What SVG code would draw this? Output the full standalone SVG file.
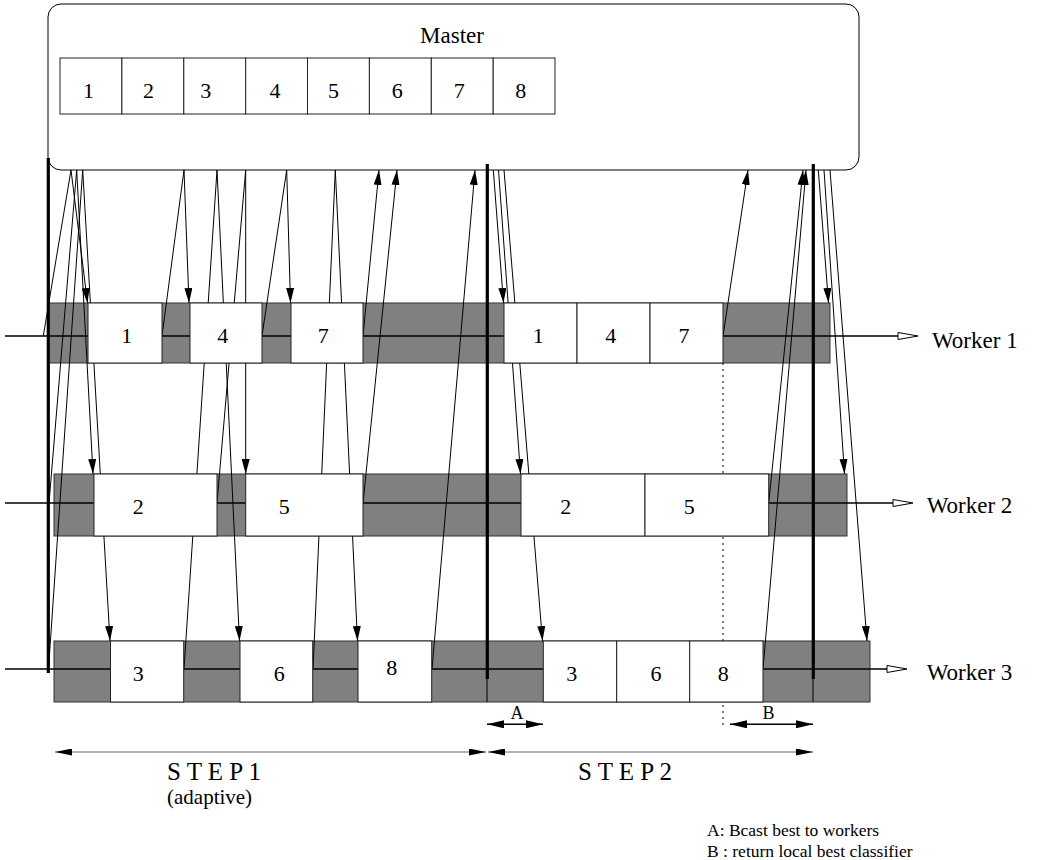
<svg xmlns="http://www.w3.org/2000/svg" width="1039" height="860" viewBox="0 0 1039 860">
<style>
.t{font-family:"Liberation Serif","Times New Roman",serif;fill:#000}
.d{font-size:22px;text-anchor:middle}
.wl{font-size:23px}
.gray{fill:#808080;stroke:#333;stroke-width:1}
.wb{fill:#fff;stroke:#222;stroke-width:1}
.cell{fill:#fff;stroke:#222;stroke-width:1}
.hl{stroke:#000;stroke-width:1.6;fill:none}
.c{stroke:#000;stroke-width:1;fill:none}
.ca{stroke:#000;stroke-width:1;fill:none;marker-end:url(#ah)}
.thick{stroke:#000;stroke-width:3.2}
.oa{fill:#fff;stroke:#000;stroke-width:1}
</style>
<defs>
<marker id="ah" markerWidth="15" markerHeight="8" refX="15" refY="4" orient="auto" markerUnits="userSpaceOnUse"><path d="M0,0 L15,4 L0,8 Z" fill="#000"/></marker>
<marker id="dh" markerWidth="17" markerHeight="7" refX="17" refY="3.5" orient="auto-start-reverse" markerUnits="userSpaceOnUse"><path d="M0,0 L17,3.5 L0,7 Z" fill="#000"/></marker>
<marker id="bh" markerWidth="17" markerHeight="8" refX="17" refY="4" orient="auto-start-reverse" markerUnits="userSpaceOnUse"><path d="M0,0 L17,4 L0,8 Z" fill="#000"/></marker>
</defs>
<rect width="1039" height="860" fill="#fff"/>

<g id="master">
<rect x="48" y="4" width="811" height="166" rx="13" ry="13" fill="#fff" stroke="#000" stroke-width="1"/>
<text class="t" x="452" y="43" font-size="23" text-anchor="middle">Master</text>
<rect class="cell" x="60" y="58" width="61.9" height="56"/>
<rect class="cell" x="121.9" y="58" width="61.9" height="56"/>
<rect class="cell" x="183.8" y="58" width="61.9" height="56"/>
<rect class="cell" x="245.7" y="58" width="61.8" height="56"/>
<rect class="cell" x="307.5" y="58" width="61.9" height="56"/>
<rect class="cell" x="369.4" y="58" width="61.9" height="56"/>
<rect class="cell" x="431.3" y="58" width="61.9" height="56"/>
<rect class="cell" x="493.2" y="58" width="61.8" height="56"/>
<text class="t d" x="88.5" y="98">1</text>
<text class="t d" x="148.5" y="98">2</text>
<text class="t d" x="205.7" y="98">3</text>
<text class="t d" x="275" y="98">4</text>
<text class="t d" x="333.5" y="98">5</text>
<text class="t d" x="397.3" y="98">6</text>
<text class="t d" x="459.3" y="98">7</text>
<text class="t d" x="520.7" y="98">8</text>
</g>

<g id="tracks">
<rect class="gray" x="48" y="303" width="782" height="60"/>
<rect class="gray" x="54" y="474" width="793" height="62"/>
<rect class="gray" x="54" y="641" width="816" height="61"/>
<line class="c" x1="487" y1="641" x2="487" y2="702" stroke="#222"/>
<line class="c" x1="813" y1="641" x2="813" y2="702" stroke="#222"/>
<line class="hl" x1="5" y1="336" x2="898" y2="336"/>
<polygon class="oa" points="898,332.5 918,336 898,339.5"/>
<line class="hl" x1="5" y1="503" x2="893" y2="503"/>
<polygon class="oa" points="893,499.5 913,503 893,506.5"/>
<line class="hl" x1="5" y1="669" x2="887" y2="669"/>
<polygon class="oa" points="887,665.5 907,669 887,672.5"/>
<line x1="723" y1="363" x2="723" y2="726" stroke="#000" stroke-width="1" stroke-dasharray="2,4"/>
</g>

<g id="connectors">
<line class="c" x1="71" y1="170" x2="43.3" y2="336"/>
<line class="c" x1="76.7" y1="170" x2="49" y2="503"/>
<line class="c" x1="82.7" y1="170" x2="48.5" y2="669"/>
<line class="ca" x1="71" y1="170" x2="87.5" y2="303"/>
<line class="ca" x1="76.7" y1="170" x2="93" y2="474"/>
<line class="ca" x1="82.7" y1="170" x2="110" y2="641"/>
<line class="c" x1="162" y1="336" x2="184" y2="170"/>
<line class="ca" x1="184" y1="170" x2="189" y2="303"/>
<line class="c" x1="184" y1="669" x2="217" y2="170"/>
<line class="ca" x1="217" y1="170" x2="239.5" y2="641"/>
<line class="c" x1="217" y1="503" x2="245.7" y2="170"/>
<line class="ca" x1="245.7" y1="170" x2="245.7" y2="474"/>
<line class="c" x1="262" y1="336" x2="286.7" y2="170"/>
<line class="ca" x1="286.7" y1="170" x2="290.5" y2="303"/>
<line class="c" x1="313" y1="669" x2="335.3" y2="170"/>
<line class="ca" x1="335.3" y1="170" x2="357.5" y2="641"/>
<line class="ca" x1="363" y1="336" x2="379" y2="170"/>
<line class="ca" x1="363" y1="503" x2="397" y2="170"/>
<line class="ca" x1="432" y1="669" x2="475" y2="170"/>
<line class="ca" x1="493.3" y1="170" x2="503.5" y2="303"/>
<line class="ca" x1="498.5" y1="170" x2="520.5" y2="474"/>
<line class="ca" x1="504" y1="170" x2="542.5" y2="641"/>
<line class="ca" x1="723" y1="336" x2="748" y2="170"/>
<line class="ca" x1="768.7" y1="503" x2="803" y2="170"/>
<line class="ca" x1="763" y1="669" x2="806" y2="170"/>
<line class="ca" x1="818.3" y1="170" x2="828.5" y2="303"/>
<line class="ca" x1="824" y1="170" x2="844.5" y2="474"/>
<line class="ca" x1="830" y1="170" x2="867" y2="641"/>
</g>

<g id="worker1">
<rect class="wb" x="88" y="303" width="74" height="60"/>
<rect class="wb" x="190" y="303" width="72" height="60"/>
<rect class="wb" x="291" y="303" width="72" height="60"/>
<rect class="wb" x="504" y="303" width="73" height="60"/>
<rect class="wb" x="577" y="303" width="73" height="60"/>
<rect class="wb" x="650" y="303" width="73" height="60"/>
<text class="t d" x="126.7" y="343">1</text>
<text class="t d" x="222.7" y="343">4</text>
<text class="t d" x="323.3" y="343">7</text>
<text class="t d" x="538.3" y="343">1</text>
<text class="t d" x="610.7" y="343">4</text>
<text class="t d" x="684" y="343">7</text>
<text class="t wl" x="932" y="348">Worker 1</text>
</g>

<g id="worker2">
<rect class="wb" x="94" y="474" width="123" height="62"/>
<rect class="wb" x="245.7" y="474" width="117.3" height="62"/>
<rect class="wb" x="521" y="474" width="124" height="62"/>
<rect class="wb" x="645" y="474" width="123.7" height="62"/>
<text class="t d" x="138.3" y="514">2</text>
<text class="t d" x="284.3" y="514">5</text>
<text class="t d" x="565.7" y="514">2</text>
<text class="t d" x="689.3" y="514">5</text>
<text class="t wl" x="926.7" y="513">Worker 2</text>
</g>

<g id="worker3">
<rect class="wb" x="110.5" y="641" width="73.2" height="61"/>
<rect class="wb" x="240" y="641" width="72.7" height="61"/>
<rect class="wb" x="358" y="641" width="73.7" height="61"/>
<rect class="wb" x="543.3" y="641" width="73.4" height="61"/>
<rect class="wb" x="616.7" y="641" width="73" height="61"/>
<rect class="wb" x="689.7" y="641" width="73.3" height="61"/>
<text class="t d" x="138.3" y="681">3</text>
<text class="t d" x="279.3" y="681">6</text>
<text class="t d" x="391.7" y="675">8</text>
<text class="t d" x="571.7" y="681">3</text>
<text class="t d" x="656" y="681">6</text>
<text class="t d" x="723.3" y="681">8</text>
<text class="t wl" x="926.7" y="680">Worker 3</text>
</g>

<g id="barriers">
<line class="thick" x1="48.3" y1="158" x2="48.3" y2="673"/>
<line class="thick" x1="487.3" y1="164" x2="487.3" y2="679"/>
<line class="thick" x1="813.3" y1="164" x2="813.3" y2="679"/>
</g>

<g id="timeline">
<line x1="487" y1="724.3" x2="543" y2="724.3" stroke="#000" stroke-width="1.5" marker-start="url(#bh)" marker-end="url(#bh)"/>
<text class="t" x="517" y="719" font-size="18" text-anchor="middle">A</text>
<line x1="730" y1="724.3" x2="813" y2="724.3" stroke="#000" stroke-width="1.5" marker-start="url(#bh)" marker-end="url(#bh)"/>
<text class="t" x="768.5" y="719" font-size="18" text-anchor="middle">B</text>
<line x1="55" y1="752" x2="486" y2="752" stroke="#666" stroke-width="1.2" marker-start="url(#dh)" marker-end="url(#dh)"/>
<line x1="488" y1="752" x2="813" y2="752" stroke="#666" stroke-width="1.2" marker-start="url(#dh)" marker-end="url(#dh)"/>
<text class="t" x="167" y="780" font-size="25">S T E P 1</text>
<text class="t" x="167" y="804" font-size="21">(adaptive)</text>
<text class="t" x="578" y="780" font-size="25">S T E P 2</text>
<text class="t" x="707" y="835.5" font-size="17.5">A: Bcast best to workers</text>
<text class="t" x="707" y="856.5" font-size="17.5">B : return local best classifier</text>
</g>
</svg>
